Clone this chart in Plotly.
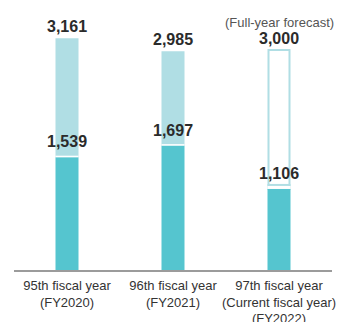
import plotly.graph_objects as go

# Fiscal years shown on the x axis
years = [
    "95th fiscal year<br>(FY2020)",
    "96th fiscal year<br>(FY2021)",
    "97th fiscal year<br>(Current fiscal year)<br>(FY2022)",
]
# Full-year totals (last one is the forecast)
full_year = [3161, 2985, 3000]
# Amount reached so far (first-half / year-to-date)
to_date = [1539, 1697, 1106]
forecast_note = "(Full-year forecast)"

LIGHT = "#b0dee4"
DARK = "#55c5cf"
TEXT = "#2b2b2b"
FORECAST = [False, False, True]

x = list(range(len(years)))
bw = 0.217
px_unit = 1 / 106.0  # one pixel in x-axis units

upper_fill = ["white" if f else LIGHT for f in FORECAST]
upper_line_w = [2 if f else 0 for f in FORECAST]
upper_width = [bw - 2 * px_unit if f else bw for f in FORECAST]

fig = go.Figure()

# Remaining part of the year, stacked on top of the year-to-date amount
fig.add_trace(go.Bar(
    x=x,
    y=[t - d for t, d in zip(full_year, to_date)],
    base=to_date,
    width=upper_width,
    marker=dict(color=upper_fill, line=dict(color=LIGHT, width=upper_line_w)),
    hoverinfo="skip",
))

# Year-to-date amount
fig.add_trace(go.Bar(
    x=x,
    y=to_date,
    width=bw,
    marker=dict(color=DARK, line=dict(width=0)),
    hoverinfo="skip",
))

shapes = []
for i, d in enumerate(to_date):
    gap = 3 if FORECAST[i] else 1.5
    shapes.append(dict(
        type="rect", xref="x", yref="y", ysizemode="pixel", yanchor=d,
        x0=i - bw / 2, x1=i + bw / 2, y0=0, y1=gap,
        fillcolor="white", line=dict(width=0), layer="above",
    ))
    if FORECAST[i]:
        shapes.append(dict(
            type="rect", xref="x", yref="y", ysizemode="pixel", yanchor=d,
            x0=i - bw / 2, x1=i + bw / 2, y0=gap, y1=gap + 2,
            fillcolor=LIGHT, line=dict(width=0), layer="above",
        ))

annotations = []
for i in x:
    annotations.append(dict(
        x=i, y=full_year[i], xref="x", yref="y", text=f"<b>{full_year[i]:,}</b>",
        showarrow=False, yanchor="bottom", yshift=1,
        font=dict(size=16, color=TEXT, family="Liberation Sans, Arial"),
    ))
    annotations.append(dict(
        x=i, y=to_date[i], xref="x", yref="y", text=f"<b>{to_date[i]:,}</b>",
        showarrow=False, yanchor="bottom", yshift=5,
        font=dict(size=16, color=TEXT, family="Liberation Sans, Arial"),
    ))
    if FORECAST[i]:
        annotations.append(dict(
            x=i, y=full_year[i], xref="x", yref="y", text=forecast_note,
            showarrow=False, yanchor="bottom", yshift=18,
            font=dict(size=13, color="#555555", family="Liberation Sans, Arial"),
        ))

fig.update_layout(
    width=345, height=322,
    margin=dict(l=14, r=13, t=20, b=52),
    paper_bgcolor="white", plot_bgcolor="white",
    barmode="overlay", showlegend=False,
    font=dict(family="Liberation Sans, Arial", color=TEXT),
    shapes=shapes, annotations=annotations,
    xaxis=dict(
        range=[-0.5, 2.5], tickvals=x, ticktext=years,
        showline=True, linecolor="#9b9b9b", linewidth=2,
        showgrid=False, zeroline=False, ticks="",
        ticklabelstandoff=2,
        tickfont=dict(size=13, color="#333333"),
        automargin=False, fixedrange=True,
    ),
    yaxis=dict(range=[0, 3411], visible=False, automargin=False, fixedrange=True),
)

fig.write_html("out.html", config={"displayModeBar": False})
